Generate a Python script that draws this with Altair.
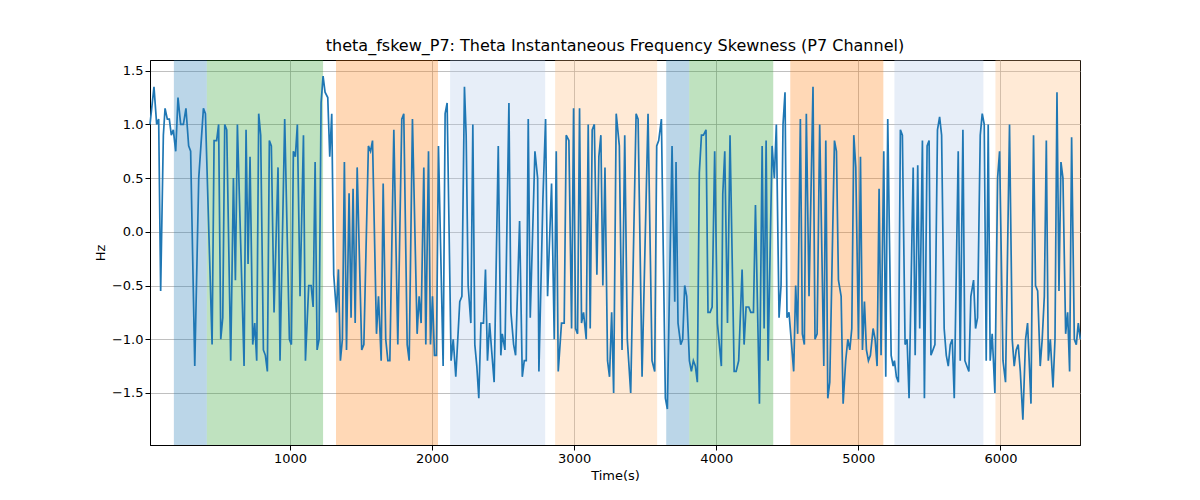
import pandas as pd
import altair as alt

t = [15, 43, 62, 76, 90, 109, 121, 137, 151, 165, 179, 196, 212, 231, 250, 268, 287, 301, 330, 358,
     391, 405, 452, 466, 484, 498, 513, 527, 541, 555, 583, 602, 616, 630, 677, 691, 705, 719, 738, 752,
     766, 780, 794, 813, 827, 841, 855, 869, 888, 916, 930, 963, 996, 1010, 1024, 1038, 1052, 1071, 1095, 1109, 1132,
     1149, 1163, 1177, 1191, 1205, 1219, 1233, 1247, 1266, 1280, 1294, 1308, 1327, 1341, 1355, 1369, 1383, 1398,
     1416, 1430, 1444, 1459, 1473, 1505, 1520, 1552, 1567, 1581, 1609, 1623, 1642, 1656, 1674, 1689, 1703, 1731,
     1759, 1787, 1801, 1825, 1839, 1862, 1895, 1909, 1923, 1942, 1956, 1975, 1989, 2003, 2017, 2031, 2045, 2078,
     2092, 2106, 2134, 2149, 2167, 2195, 2210, 2228,
     2240, 2254, 2273, 2287, 2301, 2315, 2329, 2344, 2362, 2376, 2390, 2405, 2419, 2437, 2466, 2484, 2494, 2513,
     2541, 2555, 2574, 2588, 2616, 2635, 2649, 2663, 2677, 2691, 2724, 2743, 2752, 2780, 2799, 2813, 2841, 2860,
     2874, 2888, 2911, 2930, 2944, 2963, 2982, 2996, 3010, 3024, 3038, 3052, 3066, 3085, 3099, 3113, 3127, 3142,
     3160, 3174, 3188, 3202, 3217, 3235, 3249, 3264, 3278, 3296,
     3318, 3337, 3356, 3374, 3398, 3436, 3450, 3478, 3520, 3548, 3567, 3581, 3595, 3614, 3642, 3656, 3689, 3708,
     3717, 3731, 3750, 3764, 3778, 3792, 3811, 3825, 3839, 3853, 3867, 3881, 3896, 3910, 3928, 3942, 3957, 3971,
     3989, 4008, 4036, 4046, 4060, 4079, 4097, 4126, 4140, 4158, 4182, 4196, 4210, 4229, 4243, 4262, 4276, 4304,
     4323, 4337, 4351, 4365, 4393,
     4409, 4423, 4442, 4456, 4470, 4484, 4498, 4512, 4545, 4559, 4573, 4592, 4606, 4620, 4634, 4653, 4681, 4695,
     4710, 4728, 4757, 4771, 4785, 4799, 4832, 4846, 4860, 4879, 4893, 4911, 4926, 4940, 4954, 4968, 4982, 5001,
     5015, 5029, 5043, 5057, 5071, 5085, 5104, 5118, 5132, 5146, 5160, 5179, 5193, 5207, 5231, 5245, 5254, 5268,
     5282, 5296, 5310, 5329, 5343, 5357, 5386, 5400, 5418, 5432, 5451, 5465, 5484, 5498,
     5511, 5525, 5539, 5557, 5572, 5586, 5604, 5619, 5633, 5647, 5661, 5675, 5703, 5717, 5736, 5750, 5778, 5792,
     5811, 5825, 5839, 5858, 5872, 5886, 5900, 5914, 5928, 5942, 5961, 5980, 5994, 6018, 6036, 6064, 6083, 6097,
     6111, 6125, 6140, 6158, 6177, 6191, 6215, 6233, 6247, 6262, 6280, 6294, 6309, 6323, 6337, 6351, 6370, 6384,
     6398, 6412, 6426, 6440, 6459, 6473, 6487, 6501, 6520, 6534, 6548, 6562]

hz = [1.0, 1.35, 1.0, 1.05, -0.55, 0.9, 1.15, 1.05, 1.05, 0.9, 0.95, 0.75, 1.25, 1.0, 1.0, 1.15, 0.8, 0.75, -1.25, 0.5,
      1.15, 1.1, -1.05, 0.85, 0.85, 1.0, -1.0, -0.8, 1.0, 0.95, -1.2, 0.5, -0.45, 1.0, -1.25, 0.95, -0.3, 0.7, -1.05, -0.85,
      -1.2, 1.1, 0.9, -1.1, -1.15, -1.3, 0.85, 0.8, -0.75, 0.6, -1.2, 1.05, -1.0, -1.05, 0.75, 0.7, 1.0, -0.6, 0.9, -1.2, -0.5,
      -0.5, -0.7, 0.65, -1.1, -1.0, 1.2, 1.45, 1.3, 1.25, 0.7, 1.1, -0.4, -0.75, -0.35, -1.2, -1.0, 0.65, -1.1,
      0.36, -0.8, 0.4, -0.85, 0.6, -1.1, -1.05, 0.8, 0.75, 0.85, -0.95, -0.6, -1.2, 0.45, -1.0, -1.2, -1.2, 0.95,
      -1.05, 1.05, 1.1, -1.05, -1.2, 1.05, -0.95, -0.6, -0.85, 0.6, -1.05, 0.75, -1.05, -0.6, -1.15, -1.15, 0.8, -1.25,
      1.1, 1.2, -1.2, -1.0, -1.35, -0.65, -0.6, 1.35,
      0.9, -0.5, -0.85, 1.0, -1.05, -1.25, -1.55, -0.85, -0.85, -0.35, -1.2, -0.85, -1.1, -1.4, 0.8, -1.15, -0.95, -1.1,
      1.2, -0.75, -1.05, -1.15, 0.1, -1.35, -1.2, -1.2, 1.05, -0.8, 0.75, 0.5, -1.3, 0.3, 1.05, -0.6, 0.45, -1.0,
      0.75, -1.3, -0.85, -0.85, 0.9, 0.85, -0.9, 1.15, -0.9, -0.95, 1.15, -0.85, -0.75, -1.0, 1.0, -0.9, 0.95, 1.0,
      -0.4, 0.7, 0.9, -0.5, 0.6, -1.2, -1.35, -0.75, -1.5, 1.1,
      0.8, -1.1, 0.9, -1.0, -1.5, 1.1, 1.05, -1.35, 1.1, -1.2, -1.3, 0.8, 0.85, 1.05, -1.55, -1.65, 0.8, -0.65,
      0.65, -0.85, -1.05, -1.0, -0.5, -0.6, -1.2, -1.3, -1.2, -1.25, -1.4, 0.55, 0.9, 0.9, 0.95, -0.75, -0.75, -0.7,
      0.75, -0.85, -1.25, 0.35, 0.75, -0.85, 0.9, -1.3, -1.3, -1.2, -0.35, -1.05, -0.7, -0.7, -0.75, -0.75, 0.25, -1.6,
      0.8, -0.9, 0.85, -1.2, 0.8,
      0.5, 1.0, -0.8, -0.5, 1.0, 1.3, -0.8, -0.75, -1.3, -0.5, -0.95, 1.05, -0.95, -1.05, 1.1, -0.6, 1.35, -1.0,
      -0.95, 1.0, -1.25, 0.85, -1.55, -1.4, 0.85, 0.75, -0.45, -0.6, -1.6, -1.2, -1.0, -1.1, -0.9, 0.9, 0.6, -1.0,
      0.7, -1.1, -0.65, -1.1, -1.2, -1.15, -0.9, -1.0, -1.25, 0.4, -1.15, 0.75, -1.35, 1.05, -1.15, -1.25, -1.2, -1.35,
      -1.4, 0.95, 0.9, -1.05, -1.0, -1.55, 0.6, -1.15, 0.62, -0.9, 0.85, -1.55, 0.8, 0.85,
      -1.15, -1.1, -1.05, 0.95, 1.07, 0.9, -0.9, -1.15, -1.25, -1.05, -1.0, -1.55, 0.75, -1.2, 0.95, -1.2, -1.3, -0.6,
      -0.45, -0.9, -0.8, 0.9, 1.1, 1.0, -1.2, 1.0, -1.2, -0.95, -1.5, 0.5, 0.75, -1.2, -1.4, 1.0, -1.0, -1.25,
      -1.1, -1.05, -1.3, -1.75, -1.0, -0.85, -1.6, 0.9, -0.5, -0.55, -1.25, -1.0, -0.6, 0.85, -1.2, -1.0, -1.45, -1.0,
      1.3, -0.55, 0.65, 0.5, -0.95, -0.75, -1.3, 0.88, -1.0, -1.05, -0.85, -1.0]

band_start = [183, 415, 1324, 2127, 2866, 3648, 3810, 4521, 5254, 5965]
band_end = [415, 1233, 2042, 2796, 3584, 3810, 4401, 5176, 5880, 6563]
band_color = ["#1f77b4", "#2ca02c", "#ff7f0e", "#aec7e8", "#ffbb78",
              "#1f77b4", "#2ca02c", "#ff7f0e", "#aec7e8", "#ffbb78"]

df = pd.DataFrame({"t": t, "hz": hz})
bands = pd.DataFrame({"s": band_start, "e": band_end, "c": band_color})

xs = alt.Scale(domain=[15, 6560], nice=False, zero=False)
ys = alt.Scale(domain=[-1.985, 1.6], nice=False, zero=False)

rects = alt.Chart(bands).mark_rect(opacity=0.3).encode(
    x=alt.X("s:Q", scale=xs),
    x2="e:Q",
    color=alt.Color("c:N", scale=None),
)

line = alt.Chart(df).mark_line(color="#1f77b4", strokeWidth=1.7).encode(
    x=alt.X("t:Q", scale=xs, title="Time(s)",
            axis=alt.Axis(values=[1000, 2000, 3000, 4000, 5000, 6000], format="d")),
    y=alt.Y("hz:Q", scale=ys, title="Hz",
            axis=alt.Axis(values=[-1.5, -1.0, -0.5, 0.0, 0.5, 1.0, 1.5], format=".1f")),
)

chart = (rects + line).properties(
    width=930, height=385,
    title="theta_fskew_P7: Theta Instantaneous Frequency Skewness (P7 Channel)",
    autosize="none",
    padding={"left": 142, "top": 52, "right": 20, "bottom": 50},
).configure_axis(
    grid=True, gridColor="#b0b0b0", gridWidth=0.8,
    labelFont="DejaVu Sans", titleFont="DejaVu Sans",
    labelFontSize=13, titleFontSize=13, titleFontWeight="normal",
    labelColor="black", titleColor="black",
    domainColor="black", tickColor="black", tickSize=5,
).configure_title(
    font="DejaVu Sans", fontSize=16, fontWeight="normal", offset=6,
).configure_view(stroke="black", strokeWidth=1)

chart.save("out.html", embed_options={"renderer": "svg", "actions": False})
